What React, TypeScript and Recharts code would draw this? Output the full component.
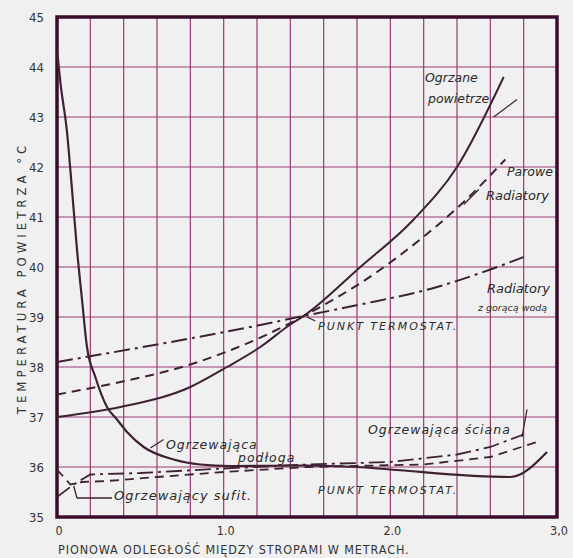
import React from 'react';
import { LineChart, Line, XAxis, YAxis, CartesianGrid, ReferenceArea, ReferenceLine } from 'recharts';

// x: vertical distance between floors (m), y: air temperature (°C)
const floorHeating: [number, number][] = [
  [0, 44.35], [0.02, 43.7], [0.06, 42.7], [0.09, 41.55], [0.12, 40.35], [0.15, 39.35],
  [0.18, 38.4], [0.23, 37.8], [0.3, 37.2], [0.36, 36.95], [0.42, 36.7], [0.52, 36.4],
  [0.7, 36.15], [0.86, 36.05], [1.04, 36.02], [1.5, 36.03], [1.8, 36.0], [2.0, 35.95],
  [2.72, 35.8], [2.94, 36.3],
];
const warmAir: [number, number][] = [
  [0, 37.0], [0.38, 37.2], [0.8, 37.6], [1.02, 38.0], [1.22, 38.4], [1.4, 38.85],
  [1.48, 39.02], [1.82, 40.0], [2.14, 40.95], [2.4, 42.0], [2.68, 43.8],
];
const steamRadiators: [number, number][] = [
  [0, 37.45], [0.38, 37.7], [0.8, 38.05], [1.26, 38.65], [1.48, 39.02], [1.92, 39.9],
  [2.16, 40.5], [2.44, 41.3], [2.69, 42.15],
];
const hotWaterRadiators: [number, number][] = [
  [0, 38.1], [0.6, 38.45], [1.16, 38.8], [1.48, 39.02], [1.82, 39.25], [2.28, 39.6],
  [2.6, 39.95], [2.8, 40.2],
];
const ceilingHeating: [number, number][] = [
  [0, 35.95], [0.08, 35.65], [0.15, 35.7], [0.3, 35.72], [0.6, 35.8], [1.0, 35.9],
  [1.5, 36.0], [2.2, 36.05], [2.6, 36.2], [2.88, 36.5],
];
const wallHeating: [number, number][] = [
  [0, 35.4], [0.1, 35.65], [0.2, 35.85], [0.5, 35.88], [1.0, 35.97], [1.5, 36.05],
  [2.0, 36.1], [2.4, 36.25], [2.6, 36.4], [2.8, 36.65],
];

const xTicks = [0, 0.2, 0.4, 0.6, 0.8, 1.0, 1.2, 1.4, 1.6, 1.8, 2.0, 2.2, 2.4, 2.6, 2.8, 3.0];
const xTickLabels: Record<string, string> = { '0': '0', '1': '1.0', '2': '2.0', '3': '3,0' };
const yTicks = [35, 36, 37, 38, 39, 40, 41, 42, 43, 44, 45];

const toPts = (arr: [number, number][]) => arr.map(([x, y]) => ({ x, y }));

const INK = '#3e2233';
const GRID = '#9a3a74';
const FRAME = '#3a0c2c';
const FONT = '"DejaVu Sans Condensed", "DejaVu Sans", sans-serif';

const XTick = (props: any) => {
  const { x, y, payload } = props;
  const lbl = xTickLabels[String(payload.value)];
  if (!lbl) return null;
  return (
    <text x={x + 2} y={y + 10} textAnchor="middle" fontSize={12.5} fill="#333" fontFamily={FONT}>
      {lbl}
    </text>
  );
};

const YTick = (props: any) => {
  const { y, payload } = props;
  return (
    <text x={44} y={y + 5} textAnchor="end" fontSize={13} fill="#333" fontFamily={FONT}>
      {payload.value}
    </text>
  );
};

const hand = { fontFamily: '"DejaVu Sans", sans-serif', fontStyle: 'italic' as const, fill: '#2a2a2a' };

export default function App() {
  return (
    <div style={{ position: 'absolute', left: 0, top: 0, width: 573, height: 558, background: '#f0f0f0' }}>
      <LineChart width={573} height={558} margin={{ top: 17, right: 16, left: 0, bottom: 0 }}>
        <CartesianGrid stroke={GRID} strokeWidth={1.2} />
        <XAxis
          type="number"
          dataKey="x"
          domain={[0, 3]}
          ticks={xTicks}
          tick={<XTick />}
          tickLine={false}
          axisLine={false}
          height={41}
          allowDataOverflow
        />
        <YAxis
          type="number"
          dataKey="y"
          domain={[35, 45]}
          ticks={yTicks}
          tick={<YTick />}
          tickLine={false}
          axisLine={false}
          width={57}
          allowDataOverflow
        />
        <ReferenceArea x1={0} x2={3} y1={35} y2={45} fill="none" stroke={FRAME} strokeWidth={3.5} fillOpacity={0} />

        <Line data={toPts(floorHeating)} dataKey="y" type="monotone" stroke={INK} strokeWidth={2.2} dot={false} isAnimationActive={false} />
        <Line data={toPts(warmAir)} dataKey="y" type="monotone" stroke={INK} strokeWidth={2} dot={false} isAnimationActive={false} />
        <Line data={toPts(steamRadiators)} dataKey="y" type="monotone" stroke={INK} strokeWidth={2} strokeDasharray="9 6" dot={false} isAnimationActive={false} />
        <Line data={toPts(hotWaterRadiators)} dataKey="y" type="monotone" stroke={INK} strokeWidth={2} strokeDasharray="16 5 3 5" dot={false} isAnimationActive={false} />
        <Line data={toPts(ceilingHeating)} dataKey="y" type="linear" stroke={INK} strokeWidth={1.8} strokeDasharray="9 6" dot={false} isAnimationActive={false} />
        <Line data={toPts(wallHeating)} dataKey="y" type="linear" stroke={INK} strokeWidth={1.8} strokeDasharray="16 5 3 5" dot={false} isAnimationActive={false} />

        {/* pointers */}
        <ReferenceLine segment={[{ x: 2.53, y: 41.55 }, { x: 2.44, y: 41.25 }]} stroke={INK} strokeWidth={1.3} />
        <ReferenceLine segment={[{ x: 2.76, y: 43.35 }, { x: 2.62, y: 43.0 }]} stroke={INK} strokeWidth={1.3} />
        <ReferenceLine segment={[{ x: 1.55, y: 38.92 }, { x: 1.5, y: 39.0 }]} stroke={INK} strokeWidth={1.3} />
        <ReferenceLine segment={[{ x: 0.64, y: 36.55 }, { x: 0.56, y: 36.38 }]} stroke={INK} strokeWidth={1.3} />
        <ReferenceLine segment={[{ x: 0.33, y: 35.38 }, { x: 0.12, y: 35.38 }]} stroke={INK} strokeWidth={1.3} />
        <ReferenceLine segment={[{ x: 0.12, y: 35.38 }, { x: 0.1, y: 35.62 }]} stroke={INK} strokeWidth={1.3} />
        <ReferenceLine segment={[{ x: 2.82, y: 37.15 }, { x: 2.79, y: 36.6 }]} stroke={INK} strokeWidth={1.3} />

        {/* annotations */}
        <text x={425} y={82} fontSize={12.5} {...hand}>Ogrzane</text>
        <text x={428} y={103} fontSize={12.5} {...hand}>powietrze</text>
        <text x={507} y={176} fontSize={12.5} {...hand}>Parowe</text>
        <text x={486} y={200} fontSize={13} {...hand}>Radiatory</text>
        <text x={487} y={293} fontSize={13} {...hand}>Radiatory</text>
        <text x={478} y={311} fontSize={9.5} {...hand}>z gorącą wodą</text>
        <text x={318} y={330} fontSize={11} letterSpacing={2} {...hand}>PUNKT TERMOSTAT.</text>
        <text x={166} y={449} fontSize={12.5} letterSpacing={1} {...hand}>Ogrzewająca</text>
        <text x={238} y={462} fontSize={12.5} letterSpacing={1} {...hand}>podłoga</text>
        <text x={368} y={434} fontSize={12.5} letterSpacing={1} {...hand}>Ogrzewająca ściana</text>
        <text x={114} y={500} fontSize={13} letterSpacing={1} {...hand}>Ogrzewający sufit.</text>
        <text x={318} y={494} fontSize={11} letterSpacing={2} {...hand}>PUNKT TERMOSTAT.</text>

        <text x={58} y={554} fontSize={12.5} letterSpacing={0.9} fill="#333" fontFamily={FONT}>
          PIONOWA ODLEGŁOŚĆ MIĘDZY STROPAMI W METRACH.
        </text>
        <text
          x={26}
          y={278}
          fontSize={13}
          letterSpacing={4}
          fill="#333"
          fontFamily={FONT}
          textAnchor="middle"
          transform="rotate(-90 26 278)"
        >
          TEMPERATURA POWIETRZA °C
        </text>
      </LineChart>
    </div>
  );
}
